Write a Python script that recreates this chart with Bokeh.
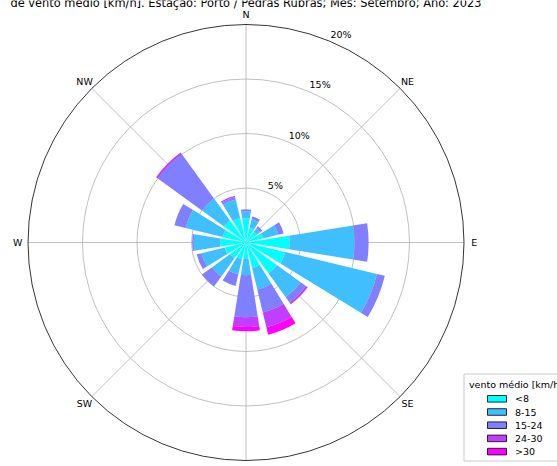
import numpy as np
from bokeh.plotting import figure
from bokeh.models import Range1d, ColumnDataSource
from bokeh.core.properties import value
from bokeh.embed import file_html
from bokeh.resources import INLINE

# ---------------- data ----------------
directions = ["N", "NNE", "NE", "ENE", "E", "ESE", "SE", "SSE",
              "S", "SSW", "SW", "WSW", "W", "WNW", "NW", "NNW"]
speed_bins = ["<8", "8-15", "15-24", "24-30", ">30"]
# frequency (%) per direction for each speed class
pct_lt8   = [2.2, 1.4, 1.2, 1.6, 4.0, 3.7, 3.5, 2.4, 1.5, 1.6, 1.8, 2.0, 2.35, 2.2, 2.5, 2.3]
pct_8_15  = [0.65, 0.8, 0.4, 1.45, 5.95, 8.65, 2.7, 2.05, 1.5, 1.4, 2.05, 2.2, 2.45, 3.5, 2.5, 1.75]
pct_15_24 = [0.2, 0.25, 0.25, 0.5, 1.3, 0.75, 0.6, 2.15, 3.85, 1.1, 1.15, 0.45, 0.15, 1.05, 5.0, 0.25]
pct_24_30 = [0.0, 0.0, 0.0, 0.0, 0.0, 0.0, 0.2, 1.4, 0.9, 0.0, 0.0, 0.0, 0.0, 0.0, 0.2, 0.1]
pct_gt30  = [0.0, 0.0, 0.0, 0.0, 0.0, 0.0, 0.0, 0.7, 0.4, 0.0, 0.0, 0.0, 0.0, 0.0, 0.0, 0.0]
bin_colors = ["#00ffff", "#40bfff", "#807fff", "#c03fff", "#ff00ff"]
grid_pct = [5, 10, 15]
rmax = 20
radial_labels = ["5%", "10%", "15%", "20%"]
radial_label_pct = [5, 10, 15, 20]
compass_labels = ["N", "NE", "E", "SE", "S", "SW", "W", "NW"]
title_text = "de vento médio [km/h]. Estação: Porto / Pedras Rubras; Mês: Setembro; Ano: 2023"
legend_title = "vento médio [km/h]"

# ---------------- layout (pixels -> data) ----------------
W, H = 557, 466
S = 10.9          # px per percent
CX, CY = 245.5, 242.0
def dx(px):
    return (px - CX) / S
def dy(py):
    return (CY - py) / S

FONT = value("DejaVu Sans")

p = figure(width=W, height=H, output_backend="svg", toolbar_location=None,
           x_range=Range1d(dx(0), dx(W)), y_range=Range1d(dy(H), dy(0)),
           x_axis_type=None, y_axis_type=None, min_border=0,
           outline_line_color=None, background_fill_color="white",
           border_fill_color="white")

# ---------------- grid (below bars) ----------------
p.circle(x=[0] * len(grid_pct), y=[0] * len(grid_pct), radius=grid_pct,
         fill_color=None, line_color="#b0b0b0", line_width=0.8)
spoke_deg = np.arange(0, 360, 45)
p.segment(x0=0, y0=0, x1=rmax * np.sin(np.deg2rad(spoke_deg)),
          y1=rmax * np.cos(np.deg2rad(spoke_deg)),
          line_color="#b0b0b0", line_width=0.8)

# ---------------- bars ----------------
nsec = len(directions)
sector = 360.0 / nsec
opening = 0.8 * sector
compass_deg = np.arange(nsec) * sector
center_rad = np.deg2rad(90.0 - compass_deg)
half = np.deg2rad(opening / 2.0)

series = [pct_lt8, pct_8_15, pct_15_24, pct_24_30, pct_gt30]
base = np.zeros(nsec)
for vals, col in zip(series, bin_colors):
    v = np.array(vals, dtype=float)
    mask = v > 0
    src = ColumnDataSource(dict(
        inner=base[mask], outer=(base + v)[mask],
        start=(center_rad - half)[mask], end=(center_rad + half)[mask]))
    p.annular_wedge(x=0, y=0, inner_radius="inner", outer_radius="outer",
                    start_angle="start", end_angle="end", source=src,
                    fill_color=col, line_color=None)
    base = base + v

# outer frame circle
p.circle(x=[0], y=[0], radius=[rmax], fill_color=None,
         line_color="black", line_width=0.8)

# radial tick labels (at 22.5 deg clockwise from N)
ra = np.deg2rad(22.5)
rl = np.array(radial_label_pct, dtype=float)
p.text(x=rl * np.sin(ra), y=rl * np.cos(ra), text=radial_labels,
       text_font=FONT, text_font_size="9.5px", text_color="black",
       text_align="left", text_baseline="alphabetic", x_offset=1, y_offset=-6.5)

# compass labels
lab_r = 20.95
lab_deg = np.arange(0, 360, 45)
p.text(x=lab_r * np.sin(np.deg2rad(lab_deg)), y=lab_r * np.cos(np.deg2rad(lab_deg)),
       text=compass_labels, text_font=FONT, text_font_size="9.5px",
       text_color="black", text_align="center", text_baseline="middle")

# title (second line of the original, partially clipped at the top)
p.text(x=[0], y=[dy(2)], text=[title_text], text_font=FONT,
       text_font_size="11.4px", text_color="black",
       text_align="center", text_baseline="alphabetic")

# ---------------- legend ----------------
box_l, box_t, box_r, box_b = 463.5, 373.5, 575, 460.5
p.quad(left=[dx(box_l)], right=[dx(box_r)], top=[dy(box_t)], bottom=[dy(box_b)],
       fill_color="white", fill_alpha=0.8, line_color="#cccccc", line_width=1)
p.text(x=[dx(468.5)], y=[dy(383.5)], text=[legend_title], text_font=FONT,
       text_font_size="9.5px", text_color="black", text_align="left",
       text_baseline="middle")
row_y = 398.3 + 13.2 * np.arange(len(speed_bins))
patch_l, patch_r, patch_h = 487.0, 506.0, 6.6
p.quad(left=dx(patch_l), right=dx(patch_r),
       top=[dy(y - patch_h / 2) for y in row_y],
       bottom=[dy(y + patch_h / 2) for y in row_y],
       fill_color=bin_colors, line_color="black", line_width=0.8)
p.text(x=[dx(514.5)] * len(speed_bins), y=[dy(y) for y in row_y], text=speed_bins,
       text_font=FONT, text_font_size="9.5px", text_color="black",
       text_align="left", text_baseline="middle")

open("out.html", "w").write(file_html(p, INLINE))
